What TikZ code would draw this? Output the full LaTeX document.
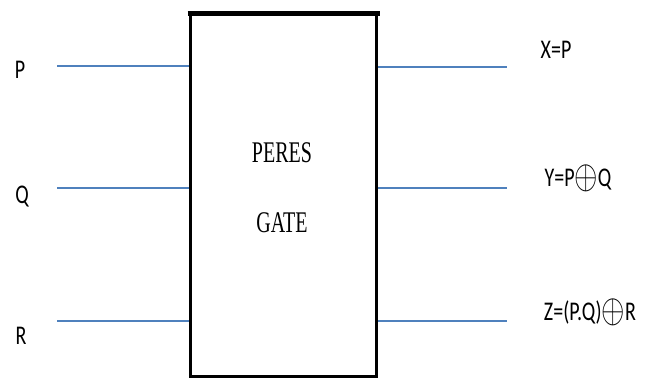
\documentclass[tikz,border=0pt]{standalone}
\usepackage{fontspec}
\usepackage{graphicx}
\setmainfont{Liberation Serif}
\newfontfamily\lblfont{Carlito}
\definecolor{wirecol}{HTML}{4F81BD}
\newcommand{\opl}{\raisebox{-0.12ex}{\scalebox{1.45}{$\mathord{\oplus}$}}}
\begin{document}
\begin{tikzpicture}[x=1pt,y=-1pt,
  wire/.style={draw=wirecol,line width=1.8pt},
  lbl/.style={font=\lblfont\fontsize{20}{22}\selectfont,inner sep=0pt},
  gtxt/.style={font=\fontsize{20}{22}\selectfont,inner sep=0pt}]
\useasboundingbox (0,0) rectangle (649,378);
\node[draw,line width=3pt,minimum width=186pt,minimum height=362pt,anchor=north west,inner sep=0pt] (gate) at (189,13) {};
\draw[line width=5pt] ([xshift=-1.5pt]gate.north west) -- ([xshift=1.5pt]gate.north east);
\node[gtxt] (t1) at (282,153) {\scalebox{1}[1.5]{PERES}};
\node[gtxt] (t2) at (282,223) {\scalebox{1}[1.5]{GATE}};
% inputs
\coordinate (inP) at (57,66);
\coordinate (inQ) at (57,188);
\coordinate (inR) at (57,321);
\draw[wire] (inP) -- (inP -| gate.west);
\draw[wire] (inQ) -- (inQ -| gate.west);
\draw[wire] (inR) -- (inR -| gate.west);
\node[lbl] (lP) at (20,70) {\scalebox{1}[1.35]{P}};
\node[lbl] (lQ) at (22,197) {\scalebox{1}[1.35]{Q}};
\node[lbl] (lR) at (21,336) {\scalebox{1}[1.35]{R}};
% outputs
\coordinate (outX) at (507,67);
\coordinate (outY) at (507,188);
\coordinate (outZ) at (507,321);
\draw[wire] (outX -| gate.east) -- (outX);
\draw[wire] (outY -| gate.east) -- (outY);
\draw[wire] (outZ -| gate.east) -- (outZ);
\node[lbl] (lX) at (556,50) {\scalebox{1}[1.35]{X=P}};
\node[lbl] (lY) at (578,178) {\scalebox{1}[1.35]{Y=P\opl Q}};
\node[lbl] (lZ) at (590,312) {\scalebox{1}[1.35]{Z=(P.Q)\opl R}};
\end{tikzpicture}
\end{document}
